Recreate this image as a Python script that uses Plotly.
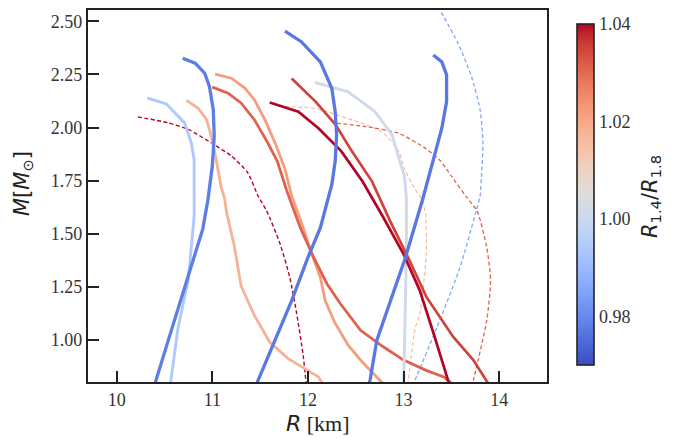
import plotly.graph_objects as go
from plotly.colors import sample_colorscale

# ---- Mass-radius relations: radius R [km], mass M [M_sun] ----
# Solid curves
lb_R = [10.32, 10.52, 10.71, 10.78, 10.81, 10.81, 10.81, 10.75, 10.64, 10.565, 10.55]
lb_M = [2.139, 2.111, 2.022, 1.928, 1.850, 1.663, 1.584, 1.288, 1.054, 0.804, 0.78]

b1_R = [10.69, 10.82, 10.92, 10.97, 11.01, 11.02, 11.00, 10.955, 10.90, 10.70, 10.54, 10.39]
b1_M = [2.326, 2.303, 2.256, 2.193, 2.084, 1.959, 1.819, 1.663, 1.522, 1.225, 1.00, 0.78]

ls_R = [10.73, 10.85, 10.94, 10.99, 11.04, 11.09, 11.13, 11.15, 11.23, 11.30, 11.44, 11.60, 11.79, 12.11, 12.14, 12.17]
ls_M = [2.128, 2.092, 2.037, 1.959, 1.850, 1.725, 1.663, 1.599, 1.443, 1.256, 1.116, 0.991, 0.914, 0.827, 0.804, 0.78]

s4_R = [11.03, 11.20, 11.34, 11.44, 11.55, 11.67, 11.76, 11.83, 11.95, 12.04, 12.13, 12.18, 12.28, 12.42, 12.57, 12.77, 12.82]
s4_M = [2.251, 2.232, 2.186, 2.131, 2.037, 1.913, 1.804, 1.679, 1.529, 1.405, 1.295, 1.186, 1.083, 0.976, 0.896, 0.803, 0.78]

s5_R = [11.00, 11.165, 11.30, 11.44, 11.58, 11.68, 11.78, 11.92, 12.06, 12.20, 12.34, 12.55, 12.78, 13.00, 13.23, 13.42, 13.49, 13.55]
s5_M = [2.190, 2.162, 2.116, 2.037, 1.928, 1.841, 1.701, 1.529, 1.389, 1.264, 1.171, 1.046, 0.971, 0.906, 0.859, 0.827, 0.801, 0.78]

b6_R = [11.76, 11.93, 12.13, 12.25, 12.285, 12.30, 12.285, 12.25, 12.13, 12.00, 11.83, 11.66, 11.48, 11.45]
b6_M = [2.454, 2.404, 2.309, 2.184, 2.075, 1.966, 1.841, 1.732, 1.529, 1.389, 1.186, 1.00, 0.804, 0.78]

g7_R = [12.075, 12.42, 12.70, 12.88, 12.96, 13.01, 13.03, 13.03, 13.02, 13.01, 13.00, 13.00]
g7_M = [2.212, 2.168, 2.075, 1.966, 1.841, 1.772, 1.663, 1.420, 1.186, 0.952, 0.80, 0.78]

c8_R = [11.60, 11.90, 12.11, 12.35, 12.57, 12.78, 13.00, 13.17, 13.32, 13.47, 13.50]
c8_M = [2.118, 2.075, 1.997, 1.888, 1.747, 1.584, 1.405, 1.233, 1.023, 0.804, 0.78]

r9_R = [11.83, 12.08, 12.29, 12.46, 12.67, 12.86, 13.03, 13.24, 13.52, 13.73, 13.88, 13.92]
r9_M = [2.231, 2.122, 2.013, 1.888, 1.747, 1.560, 1.405, 1.202, 1.015, 0.906, 0.80, 0.78]

b10_R = [13.31, 13.40, 13.45, 13.45, 13.40, 13.31, 13.20, 13.02, 12.86, 12.72, 12.65, 12.63]
b10_M = [2.341, 2.309, 2.248, 2.122, 1.997, 1.841, 1.663, 1.389, 1.186, 0.999, 0.812, 0.78]

# Dashed curves
d1_R = [10.22, 10.54, 10.75, 10.99, 11.20, 11.37, 11.48, 11.57, 11.71, 11.81, 11.88, 11.95, 11.98, 11.99]
d1_M = [2.050, 2.022, 1.991, 1.928, 1.866, 1.788, 1.677, 1.607, 1.451, 1.295, 1.131, 0.929, 0.804, 0.78]

d2_R = [11.76, 12.08, 12.46, 12.77, 12.95, 13.01, 13.12, 13.19, 13.23, 13.24, 13.23, 13.17, 13.12, 13.05, 13.04]
d2_M = [2.098, 2.090, 2.036, 1.981, 1.888, 1.804, 1.710, 1.663, 1.592, 1.443, 1.358, 1.124, 1.054, 0.812, 0.78]

d3_R = [12.30, 12.60, 12.95, 13.23, 13.38, 13.50, 13.65, 13.77, 13.87, 13.91, 13.87, 13.73, 13.71]
d3_M = [2.020, 2.005, 1.973, 1.902, 1.846, 1.772, 1.677, 1.607, 1.435, 1.280, 1.093, 0.812, 0.78]

d4_R = [13.36, 13.57, 13.71, 13.80, 13.83, 13.815, 13.80, 13.75, 13.59, 13.35, 13.12, 13.09]
d4_M = [2.57, 2.396, 2.240, 2.084, 1.928, 1.772, 1.677, 1.592, 1.342, 1.061, 0.812, 0.78]

# Radius ratio R_1.4 / R_1.8 of each curve (sets its colour)
ratio_lb, ratio_b1, ratio_ls, ratio_s4, ratio_s5 = 0.994, 0.978, 1.018, 1.022, 1.031
ratio_b6, ratio_g7, ratio_c8, ratio_r9, ratio_b10 = 0.977, 1.0015, 1.040, 1.035, 0.977
ratio_d1, ratio_d2, ratio_d3, ratio_d4 = 1.040, 1.016, 1.031, 0.9855

cmin, cmax = 0.97, 1.04
x_ticks = [10, 11, 12, 13, 14]
y_ticks = [1.00, 1.25, 1.50, 1.75, 2.00, 2.25, 2.50]
cbar_ticks = [0.98, 1.00, 1.02, 1.04]

SERIF = "Liberation Serif, Tinos, Times New Roman, Nimbus Roman, DejaVu Serif, serif"
SANS = "DejaVu Sans, Verdana, sans-serif"

# matplotlib-style "coolwarm" diverging map
_cw = [
    (59, 76, 192), (68, 90, 204), (77, 104, 215), (87, 117, 225), (98, 130, 234),
    (108, 142, 241), (119, 154, 247), (130, 165, 251), (141, 176, 254), (152, 185, 255),
    (163, 194, 255), (174, 201, 253), (184, 208, 249), (194, 213, 244), (204, 217, 238),
    (213, 219, 230), (221, 221, 221), (229, 216, 209), (236, 211, 197), (241, 204, 185),
    (245, 196, 173), (247, 187, 160), (247, 177, 148), (247, 166, 135), (244, 154, 123),
    (241, 141, 111), (236, 127, 99), (229, 112, 88), (222, 96, 77), (213, 80, 66),
    (203, 62, 56), (192, 40, 47), (180, 4, 38),
]
coolwarm = [[i / (len(_cw) - 1), "rgb(%d,%d,%d)" % c] for i, c in enumerate(_cw)]


def cmap(v):
    t = min(max((v - cmin) / (cmax - cmin), 0.0), 1.0)
    return sample_colorscale(coolwarm, [t])[0]


fig = go.Figure()

dashed = [
    (d1_R, d1_M, ratio_d1, 1.4),
    (d2_R, d2_M, ratio_d2, 1.2),
    (d3_R, d3_M, ratio_d3, 1.3),
    (d4_R, d4_M, ratio_d4, 1.3),
]
for R, M, r, w in dashed:
    fig.add_trace(go.Scatter(
        x=R, y=M, mode="lines", showlegend=False, hoverinfo="skip",
        line=dict(color=cmap(r), width=w, dash="4px,2.5px", shape="spline", smoothing=0.6),
    ))

solid = [
    (lb_R, lb_M, ratio_lb, 2.9),
    (ls_R, ls_M, ratio_ls, 2.8),
    (s4_R, s4_M, ratio_s4, 2.8),
    (s5_R, s5_M, ratio_s5, 2.8),
    (g7_R, g7_M, ratio_g7, 2.9),
    (c8_R, c8_M, ratio_c8, 2.7),
    (r9_R, r9_M, ratio_r9, 2.7),
    (b1_R, b1_M, ratio_b1, 3.3),
    (b6_R, b6_M, ratio_b6, 3.3),
    (b10_R, b10_M, ratio_b10, 3.3),
]
for R, M, r, w in solid:
    fig.add_trace(go.Scatter(
        x=R, y=M, mode="lines", showlegend=False, hoverinfo="skip",
        line=dict(color=cmap(r), width=w),
    ))

# colour bar carrier
fig.add_trace(go.Scatter(
    x=[None], y=[None], mode="markers", showlegend=False, hoverinfo="skip",
    marker=dict(
        color=[cmin], cmin=cmin, cmax=cmax, colorscale=coolwarm, showscale=True,
        colorbar=dict(
            x=(577 - 88) / 459, xanchor="left", xpad=0, ypad=0,
            y=1 - (193.4 - 8) / 374, yanchor="middle",
            lenmode="pixels", len=341, thickness=17,
            outlinewidth=1.6, outlinecolor="#222",
            tickvals=cbar_ticks, ticktext=["%.2f" % v for v in cbar_ticks],
            ticks="", ticklen=0,
            tickfont=dict(family=SERIF, size=18, color="#333"),
        ),
    ),
))

axis_common = dict(
    showline=True, linewidth=2.2, linecolor="#222", mirror=True,
    ticks="inside", ticklen=11, tickwidth=2, tickcolor="#222",
    showgrid=False, zeroline=False,
    tickfont=dict(family=SERIF, size=18, color="#333"),
)

fig.update_layout(
    width=694, height=439,
    margin=dict(l=88, r=147, t=8, b=57),
    paper_bgcolor="white", plot_bgcolor="white",
    font=dict(family=SERIF),
    xaxis=dict(range=[9.7, 14.5], tickvals=x_ticks, ticktext=[str(v) for v in x_ticks], **axis_common),
    yaxis=dict(range=[0.803, 2.553], tickvals=y_ticks, ticktext=["%.2f" % v for v in y_ticks], **axis_common),
)

fig.add_annotation(
    xref="paper", yref="paper", x=0.5, y=-(424 - 382) / 374, xanchor="center", yanchor="middle",
    text="<span style='font-family:DejaVu Sans'><i>R</i></span> [km]", showarrow=False,
    font=dict(family=SERIF, size=22, color="#222"),
)
fig.add_annotation(
    xref="paper", yref="paper", x=(23 - 88) / 459, y=1 - (183 - 8) / 374, xanchor="center", yanchor="middle",
    textangle=-90, showarrow=False,
    text="<i>M</i>[<i>M</i><sub>⊙</sub>]",
    font=dict(family=SANS, size=21, color="#222"),
)
fig.add_annotation(
    xref="paper", yref="paper", x=(651 - 88) / 459, y=1 - (196 - 8) / 374, xanchor="center", yanchor="middle",
    textangle=-90, showarrow=False,
    text="<i>R</i><sub>1.4</sub>/<i>R</i><sub>1.8</sub>",
    font=dict(family=SANS, size=21, color="#222"),
)

fig.write_html("out.html")
